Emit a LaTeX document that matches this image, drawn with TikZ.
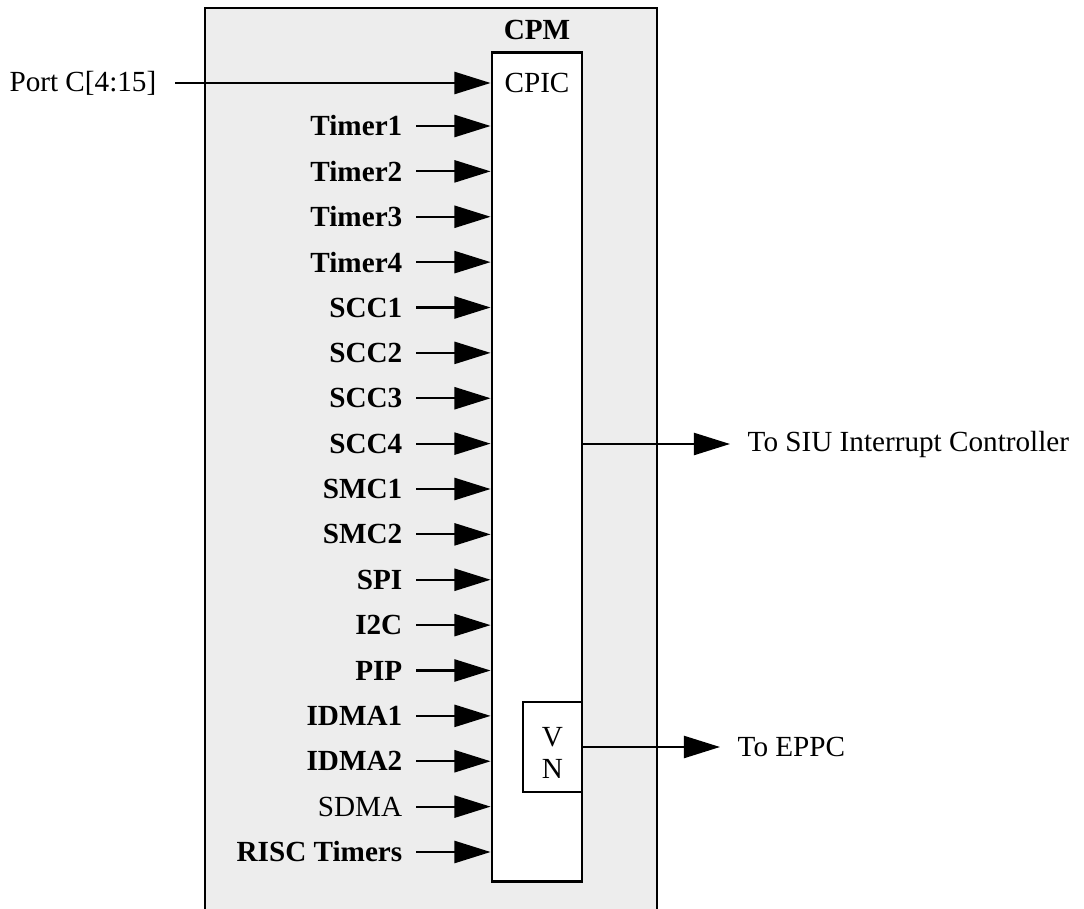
\documentclass[tikz,border=0pt]{standalone}
\usepackage{fontspec}
\setmainfont{Liberation Serif}
\usetikzlibrary{arrows.meta}

\begin{document}
\begin{tikzpicture}
  [x=0.01cm, y=-0.01cm,
   font=\fontsize{8.3}{9.2}\selectfont,
   sig/.style={-{Triangle[length=10.3pt,width=6.3pt]}, line width=0.6pt},
   box/.style={draw, line width=0.8pt, fill=white, inner sep=0pt},
   inlabel/.style={anchor=east, inner ysep=0pt, inner xsep=0.13cm},
   outlabel/.style={anchor=west, inner ysep=0pt, inner xsep=0.17cm}]
  \useasboundingbox (0,0) rectangle (1084,909);
  % CPM block, open at the bottom
  \fill[black!7] (205,8) rectangle (657,909);
  \draw[line width=0.8pt] (205,909) -- (205,8) -- (657,8) -- (657,909);
  \node[font=\fontsize{8.3}{9.2}\selectfont\bfseries] (cpm) at (537,30) {CPM};
  \node[box, minimum width=0.9cm, minimum height=8.28cm] (cpic) at (537,467) {};
  \node (cpictext) at (537,83) {CPIC};
  \node[box, minimum width=0.59cm, minimum height=0.9cm] (vn) at (552.5,747) {};
  \node[align=center, font=\fontsize{8.3}{9.1}\selectfont] (vntext) at (552.5,753) {V\\N};
  % inputs
  \node[inlabel, inner xsep=0.18cm] (portc) at (175,83) {Port C[4:15]};
  \draw[sig] (portc.east) -- (portc.east -| cpic.west);
  \foreach \lbl [count=\i from 0] in {\textbf{Timer1}, \textbf{Timer2}, \textbf{Timer3},
      \textbf{Timer4}, \textbf{SCC1}, \textbf{SCC2}, \textbf{SCC3}, \textbf{SCC4},
      \textbf{SMC1}, \textbf{SMC2}, \textbf{SPI}, \textbf{I2C}, \textbf{PIP},
      \textbf{IDMA1}, \textbf{IDMA2}, SDMA, \textbf{RISC Timers}} {
    \node[inlabel] (in\i) at (416,126+45.375*\i) {\lbl};
    \draw[sig] (in\i.east) -- (in\i.east -| cpic.west);
  }
  % outputs
  \node[outlabel] (siu) at (730,444) {To SIU Interrupt Controller};
  \draw[sig] (cpic.east |- siu) -- (siu.west);
  \node[outlabel] (eppc) at (720,747) {To EPPC};
  \draw[sig] (vn.east) -- (eppc.west);
\end{tikzpicture}
\end{document}
